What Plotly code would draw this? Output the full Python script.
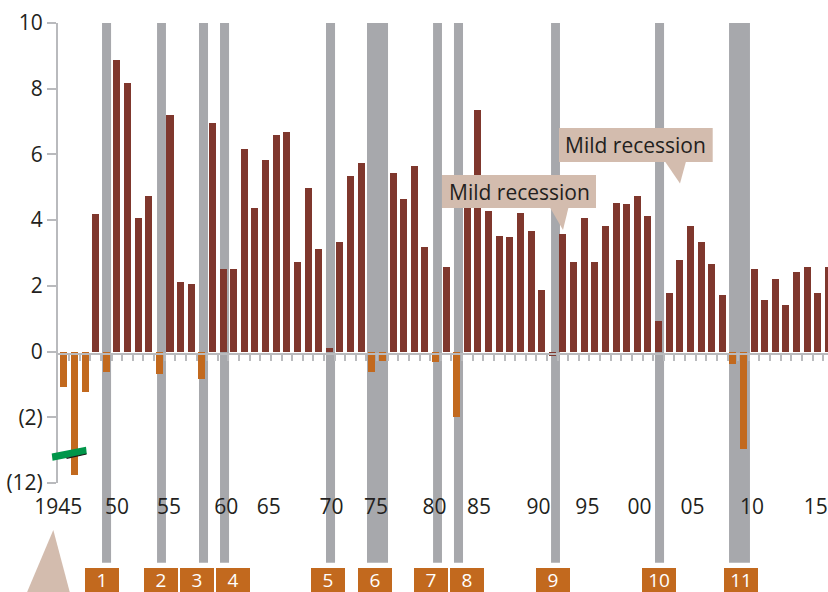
import plotly.graph_objects as go

# ---------------- data ----------------
years = list(range(1945, 2018))
growth = [-1.08, -9.8, -1.23, 4.18, -0.63, 8.88, 8.18, 4.06, 4.73, -0.69,
          7.21, 2.12, 2.06, -0.84, 6.97, 2.52, 2.52, 6.18, 4.36, 5.82,
          6.58, 6.67, 2.73, 4.97, 3.12, 0.12, 3.33, 5.33, 5.73, -0.63,
          -0.29, 5.42, 4.64, 5.64, 3.18, -0.32, 2.58, -2.0, 4.6, 7.36,
          4.27, 3.52, 3.48, 4.21, 3.67, 1.88, -0.12, 3.58, 2.73, 4.06,
          2.73, 3.82, 4.52, 4.48, 4.73, 4.12, 0.94, 1.79, 2.79, 3.82,
          3.33, 2.67, 1.73, -0.38, -2.96, 2.52, 1.58, 2.21, 1.42, 2.42,
          2.58, 1.79, 2.58]

# recession periods (fractional years)
rec_start = [1948.60, 1953.78, 1957.73, 1959.71, 1969.69, 1973.55, 1979.77, 1981.74, 1990.88, 2000.67, 2007.64]
rec_end   = [1949.45, 1954.62, 1958.58, 1960.56, 1970.54, 1975.53, 1980.61, 1982.59, 1991.72, 2001.52, 2009.61]
rec_labels = ["1", "2", "3", "4", "5", "6", "7", "8", "9", "10", "11"]

x_tick_labels = ["1945", "50", "55", "60", "65", "70", "75", "80", "85", "90", "95", "00", "05", "10", "15"]
x_tick_pos = [1944.47, 1950.0, 1954.9, 1960.3, 1964.3, 1970.2, 1974.4, 1979.9, 1984.1, 1989.7,
              1994.3, 1999.2, 2004.2, 2009.8, 2015.8]
y_tick_vals = [10, 8, 6, 4, 2, 0, -2, -4]
y_tick_text = ["10", "8", "6", "4", "2", "0", "(2)", "(12)"]

callout_text = "Mild recession"

# ---------------- styling ----------------
BROWN = "#7f372d"
ORANGE = "#c2691e"
GRAY = "#a7a8ac"
BEIGE = "#d3bcae"
GREEN = "#00964a"
AXIS = "#b9babd"
TEXT = "#231f20"
FONT = "Open Sans"

W, H = 828, 592
ML, MR, MT, MB = 58, 0, 23, 109
PW, PH = W - ML - MR, H - MT - MB
X_LO, X_HI = 1944.454, 2016.958


def axis_break(v):
    # linear down to -3, compressed below (−12 shown at −4)
    return v if v >= -3 else -3 + (v + 3) / 9.0


def px(x):
    return (x - ML) / PW


def py(y):
    return (H - MB - y) / PH


disp = [axis_break(v) for v in growth]
colors = [BROWN if v > -0.2 else ORANGE for v in growth]

fig = go.Figure()
fig.add_trace(go.Bar(x=years, y=disp, width=0.66, marker=dict(color=colors, line=dict(width=0)),
                     hoverinfo="skip", showlegend=False))
# helper trace for the zero-line axis
fig.add_trace(go.Scatter(x=[years[0]], y=[0], xaxis="x2", mode="markers",
                         marker=dict(opacity=0), hoverinfo="skip", showlegend=False))

shapes = []
# recession bands
for s, e in zip(rec_start, rec_end):
    shapes.append(dict(type="rect", xref="x", yref="paper", x0=s, x1=e, y0=py(562.7), y1=1.0,
                       fillcolor=GRAY, line=dict(width=0), layer="below"))

# callout boxes and pointers
callouts = [
    dict(box=(442, 175, 596, 208), tri=[(550, 207.5), (568.5, 207.5), (563, 230)]),
    dict(box=(559, 128, 712.7, 162), tri=[(665, 161.5), (686, 161.5), (680, 183.5)]),
]
annotations = []
for c in callouts:
    x0, y0, x1, y1 = c["box"]
    shapes.append(dict(type="rect", xref="paper", yref="paper", x0=px(x0), x1=px(x1),
                       y0=py(y1), y1=py(y0), fillcolor=BEIGE, line=dict(width=0), layer="above"))
    pts = c["tri"]
    path = "M " + " L ".join(f"{px(a):.5f},{py(b):.5f}" for a, b in pts) + " Z"
    shapes.append(dict(type="path", xref="paper", yref="paper", path=path,
                       fillcolor=BEIGE, line=dict(width=0), layer="above"))
    annotations.append(dict(xref="paper", yref="paper", x=px((x0 + x1) / 2), y=py((y0 + y1) / 2),
                            text=callout_text, showarrow=False, xanchor="center", yanchor="middle",
                            font=dict(family=FONT, size=21, color=TEXT)))

# axis break marker
brk = [(51.7, 453.5), (86.0, 446.8), (86.8, 454.0), (52.6, 460.8)]
shapes.append(dict(type="path", xref="paper", yref="paper",
                   path="M " + " L ".join(f"{px(a):.5f},{py(b):.5f}" for a, b in brk) + " Z",
                   fillcolor=GREEN, line=dict(width=0), layer="above"))
shapes.append(dict(type="line", xref="paper", yref="paper", x0=px(66.5), y0=py(458.3),
                   x1=px(86.5), y1=py(454.0), line=dict(color="#1a1a1a", width=1.2), layer="above"))

# bottom-left pointer triangle
tri = [(26.7, 593), (70.0, 593), (53.3, 530)]
shapes.append(dict(type="path", xref="paper", yref="paper",
                   path="M " + " L ".join(f"{px(a):.5f},{py(b):.5f}" for a, b in tri) + " Z",
                   fillcolor=BEIGE, line=dict(width=0), layer="above"))

# numbered recession boxes
box_centers = [102, 161, 197, 233, 328, 375, 431, 467, 553, 659, 741]
for lab, cx in zip(rec_labels, box_centers):
    annotations.append(dict(xref="paper", yref="paper", x=px(cx), y=py(580), text=lab,
                            showarrow=False, xanchor="center", yanchor="middle",
                            width=34, height=24, bgcolor=ORANGE, borderwidth=0, borderpad=0,
                            font=dict(family=FONT, size=19, color="white")))

fig.update_layout(
    width=W, height=H,
    margin=dict(l=ML, r=MR, t=MT, b=MB, pad=0, autoexpand=False),
    paper_bgcolor="white", plot_bgcolor="white",
    bargap=0,
    showlegend=False,
    font=dict(family=FONT, color=TEXT),
    xaxis=dict(range=[X_LO, X_HI], tickmode="array", tickvals=x_tick_pos, ticktext=x_tick_labels,
               showline=False, ticks="", showgrid=False, zeroline=False, automargin=False,
               tickfont=dict(family=FONT, size=21, color=TEXT), ticklabelstandoff=9),
    xaxis2=dict(range=[X_LO, X_HI], overlaying="x", anchor="free", position=py(353.5),
                showline=True, linecolor=AXIS, linewidth=2, ticks="outside", automargin=False,
                tickvals=[y + 0.5 for y in years[:-1]], ticklen=6, tickwidth=1.5, tickcolor=AXIS,
                showticklabels=False, showgrid=False, zeroline=False, layer="above traces"),
    yaxis=dict(range=[-4, 10], tickmode="array", tickvals=y_tick_vals, ticktext=y_tick_text,
               showline=True, linecolor=AXIS, linewidth=2, ticks="outside", ticklen=9,
               tickwidth=2, tickcolor=AXIS, showgrid=False, zeroline=False, automargin=False,
               tickfont=dict(family=FONT, size=21, color=TEXT)),
    shapes=shapes,
    annotations=annotations,
)

fig.write_html("out.html", config={"displayModeBar": False},
               post_script="document.body.style.margin='0';document.body.style.overflow='hidden';")
